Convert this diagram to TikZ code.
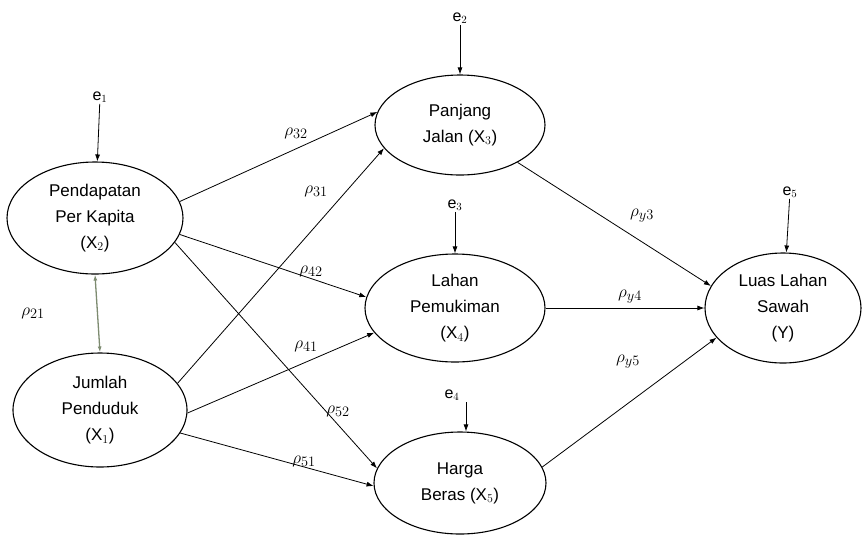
\documentclass[tikz,border=0pt]{standalone}
\usepackage{fontspec}
\setmainfont{Liberation Sans}
\usetikzlibrary{arrows.meta, positioning, shapes.geometric}
\definecolor{pathLink}{HTML}{7D8B70}

\tikzset{
  var/.style={ellipse, draw, line width=1.1pt, inner sep=0pt, align=center,
              font=\fontsize{17}{26}\selectfont},
  link/.style={-{Latex[length=7pt,width=5pt]}, line width=0.8pt},
  coef/.style={font=\fontsize{19}{20}\selectfont},
  err/.style={font=\fontsize{16}{18}\selectfont, inner sep=1pt}
}

\begin{document}
\begin{tikzpicture}[x=1pt, y=-1pt]
  \useasboundingbox (0,0) rectangle (862,542);

  % variables
  \node[var, minimum width=176pt, minimum height=112pt] (x2) at (95,218)
    {Pendapatan\\Per Kapita\\(X$_2$)};
  \node[var, minimum width=174pt, minimum height=114pt] (x1) at (100,410)
    {Jumlah\\Penduduk\\(X$_1$)};
  \node[var, minimum width=170pt, minimum height=100pt] (x3) at (460,125)
    {Panjang\\Jalan (X$_3$)};
  \node[var, minimum width=180pt, minimum height=108pt] (x4) at (455,308)
    {Lahan\\Pemukiman\\(X$_4$)};
  \node[var, minimum width=172pt, minimum height=102pt] (x5) at (460,483)
    {Harga\\Beras (X$_5$)};
  \node[var, minimum width=156pt, minimum height=110pt] (y) at (783,308)
    {Luas Lahan\\Sawah\\(Y)};

  % error terms
  \node[err] (e1) at (100,97) {e$_1$};
  \node[err] (e2) at (460,18) {e$_2$};
  \node[err] (e3) at (455,205) {e$_3$};
  \node[err] (e4) at (452,395) {e$_4$};
  \node[err] (e5) at (790,192) {e$_5$};
  \coordinate (e4a) at (466,402);
  \draw[link] (e1) -- (x2);
  \draw[link] (e2) -- (x3);
  \draw[link] (e3) -- (x4);
  \draw[link] (e4a) -- (e4a |- x5.north);
  \draw[link] (e5) -- (y);

  % correlation
  \draw[{Latex[length=6pt,width=4pt]}-{Latex[length=6pt,width=4pt]},
        pathLink, line width=1.3pt] (x2.south) -- (x1.north);
  \node[coef] (l21) at (33,313) {$\rho_{21}$};

  % paths
  \draw[link] (x2.11) -- (x3.171);
  \draw[link] (x1.19) -- (x3.197);
  \draw[link] (x2.-11) -- (x4.173);
  \draw[link] (x1.-2) -- (x4.197);
  \draw[link] (x2.-17) -- (x5.170);
  \draw[link] (x1.-16) -- (x5.182);
  \draw[link] (x3.-33) -- (y.163);
  \draw[link] (x4.0) -- (y.180);
  \draw[link] (x5.11) -- (y.204);

  \node[coef] (l32) at (296,133) {$\rho_{32}$};
  \node[coef] (l31) at (316,191) {$\rho_{31}$};
  \node[coef] (l42) at (311,271) {$\rho_{42}$};
  \node[coef] (l41) at (306,346) {$\rho_{41}$};
  \node[coef] (l52) at (338,411) {$\rho_{52}$};
  \node[coef] (l51) at (304,461) {$\rho_{51}$};
  \node[coef] (ly3) at (642,216) {$\rho_{y3}$};
  \node[coef] (ly4) at (630,297) {$\rho_{y4}$};
  \node[coef] (ly5) at (628,362) {$\rho_{y5}$};
\end{tikzpicture}
\end{document}
